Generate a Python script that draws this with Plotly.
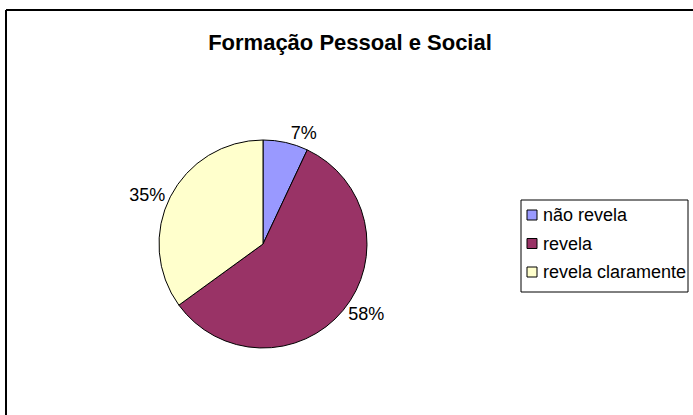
import plotly.graph_objects as go

labels = ["não revela", "revela", "revela claramente"]
values = [7, 58, 35]
colors = ["#9999FF", "#993366", "#FFFFCC"]

W, H = 693, 415
font = "Arial, Liberation Sans, sans-serif"

fig = go.Figure()

fig.add_trace(go.Pie(
    labels=labels, values=values,
    marker=dict(colors=colors, line=dict(color="black", width=1)),
    sort=False, direction="clockwise", rotation=0,
    texttemplate="%{percent:.0%}", textposition="outside",
    textfont=dict(family=font, size=18, color="black"),
    domain=dict(x=[(263-104)/W, (263+104)/W], y=[(415-244-104)/H, (415-244+104)/H]),
    showlegend=False, hoverinfo="label+percent",
))

# Excel-style legend: box, small squares and labels
shapes = [
    dict(type="line", xref="paper", yref="paper", x0=6/W, y0=1-10/H, x1=1.01, y1=1-10/H,
         line=dict(color="black", width=2)),
    dict(type="line", xref="paper", yref="paper", x0=6/W, y0=1-10/H, x1=6/W, y1=-0.01,
         line=dict(color="black", width=2)),
    dict(type="rect", xref="paper", yref="paper", x0=521/W, x1=688/W, y0=1-292/H, y1=1-200/H,
         line=dict(color="black", width=1), fillcolor="white"),
]
annotations = []
for i, lab in enumerate(labels):
    yc = 215 + i*28.5
    shapes.append(dict(type="rect", xref="paper", yref="paper",
                       x0=527/W, x1=537/W, y0=1-(yc+5)/H, y1=1-(yc-5)/H,
                       line=dict(color="black", width=1), fillcolor=colors[i]))
    annotations.append(dict(text=lab, xref="paper", yref="paper", x=541/W, y=1-yc/H,
                            xanchor="left", yanchor="middle", showarrow=False,
                            font=dict(family=font, size=18, color="black")))

fig.update_layout(
    width=W, height=H,
    margin=dict(l=0, r=0, t=0, b=0),
    paper_bgcolor="white", plot_bgcolor="white",
    title=dict(text="<b>Formação Pessoal e Social</b>", x=350/W, y=1-42/H,
               xanchor="center", yanchor="middle",
               font=dict(family=font, size=22, color="black")),
    xaxis=dict(visible=False), yaxis=dict(visible=False),
    showlegend=False,
    shapes=shapes,
    annotations=annotations,
)

fig.write_html("out.html", config={"displayModeBar": False},
               post_script="document.body.style.margin='0';")
